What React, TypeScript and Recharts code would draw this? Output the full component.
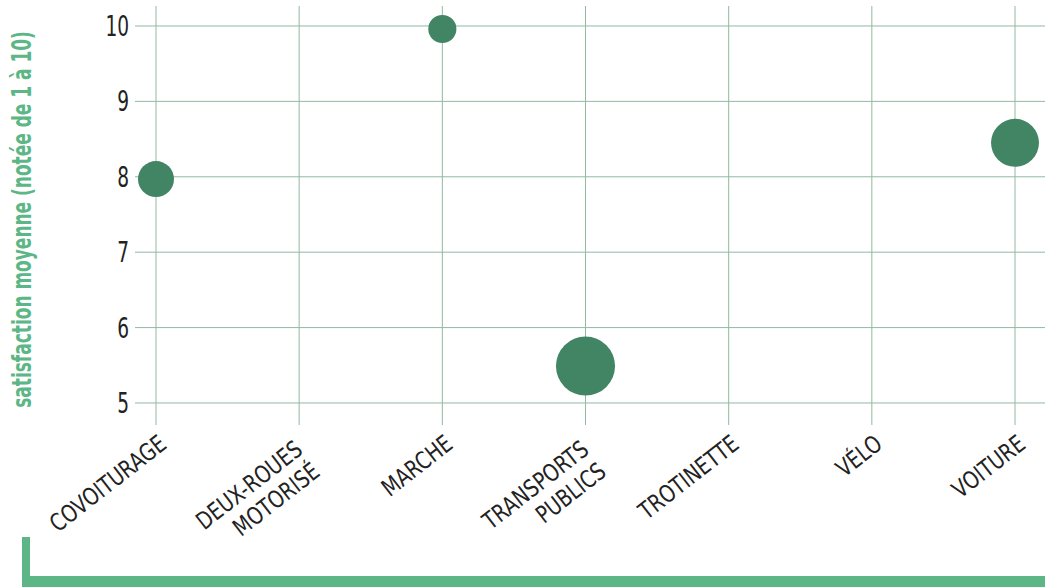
import React from "react";
import { ScatterChart, Scatter, XAxis, YAxis, ZAxis, CartesianGrid } from "recharts";

const categories = [
  "COVOITURAGE",
  "DEUX-ROUES MOTORISÉ",
  "MARCHE",
  "TRANSPORTS PUBLICS",
  "TROTINETTE",
  "VÉLO",
  "VOITURE",
];
const categoryLines = [
  ["COVOITURAGE"],
  ["DEUX-ROUES", "MOTORISÉ"],
  ["MARCHE"],
  ["TRANSPORTS", "PUBLICS"],
  ["TROTINETTE"],
  ["VÉLO"],
  ["VOITURE"],
];
const satisfaction: (number | null)[] = [7.97, null, 9.96, 5.49, null, null, 8.45];
const respondents: (number | null)[] = [36, null, 22, 97, null, null, 64];
const xTicks = [0, 1, 2, 3, 4, 5, 6];
const yTicks = [5, 6, 7, 8, 9, 10];
const xDomain: [number, number] = [-0.1467, 6.2095];
const yDomain: [number, number] = [4.708, 10.265];
const yLabel = "satisfaction moyenne (notée de 1 à 10)";

const data = categories
  .map((c, i) => ({ x: i, name: c, y: satisfaction[i], z: respondents[i] }))
  .filter((d) => d.y !== null);

const FONT = "'DejaVu Sans', 'Noto Sans', sans-serif";
const GRID = "#92b9a2";
const DOT = "#418565";
const ACCENT = "#5cb686";

const XTick = (props: any) => {
  const { x, y, payload } = props;
  const lines = categoryLines[payload.value] || [];
  const shift = lines.length > 1 ? -9 : 0;
  return (
    <g transform={`translate(${x + 12},${y + 14}) rotate(-38) scale(0.8,1)`}>
      <text textAnchor="end" fontFamily={FONT} fontSize={24} fill="#222">
        {lines.map((l, i) => (
          <tspan key={i} x={shift / 0.8} dy={i === 0 ? 0 : 28}>
            {l}
          </tspan>
        ))}
      </text>
    </g>
  );
};

const YTick = (props: any) => {
  const { y, payload } = props;
  return (
    <g transform={`translate(129,${y + 10}) scale(0.64,1)`}>
      <text x={0} y={0} textAnchor="end" fontFamily={FONT} fontSize={29} fill="#222">
        {payload.value}
      </text>
    </g>
  );
};

const YLabel = (props: any) => {
  const vb = props.viewBox || { x: 0, y: 6, width: 135, height: 419 };
  const cx = 31;
  const cy = vb.y + vb.height / 2 + 4;
  return (
    <g transform={`translate(${cx},${cy}) rotate(-90) scale(0.654,1)`}>
      <text
        x={0}
        y={0}
        textAnchor="middle"
        fontFamily={FONT}
        fontWeight="bold"
        fontSize={26}
        fill={ACCENT}
      >
        {yLabel}
      </text>
    </g>
  );
};

const hGen = ({ offset }: any) =>
  yTicks.map(
    (t) => offset.top + ((yDomain[1] - t) / (yDomain[1] - yDomain[0])) * offset.height
  );
const vGen = ({ offset }: any) =>
  xTicks.map(
    (t) => offset.left + ((t - xDomain[0]) / (xDomain[1] - xDomain[0])) * offset.width
  );

export default function App() {
  return (
    <div style={{ position: "fixed", left: 0, top: 0, width: 1045, height: 587, background: "#fff" }}>
      <ScatterChart
        width={1045}
        height={587}
        margin={{ top: 6, right: 0, left: 0, bottom: 102 }}
      >
        <CartesianGrid
          stroke={GRID}
          strokeWidth={1}
          horizontalCoordinatesGenerator={hGen}
          verticalCoordinatesGenerator={vGen}
        />
        <XAxis
          type="number"
          dataKey="x"
          domain={xDomain}
          ticks={xTicks}
          interval={0}
          allowDataOverflow
          axisLine={false}
          tickLine={false}
          height={60}
          tick={<XTick />}
        />
        <YAxis
          type="number"
          dataKey="y"
          domain={yDomain}
          ticks={yTicks}
          interval={0}
          allowDataOverflow
          axisLine={false}
          tickLine={false}
          width={135}
          tick={<YTick />}
          label={<YLabel />}
        />
        <ZAxis type="number" dataKey="z" domain={[0, 100]} range={[0, 2827]} />
        <Scatter data={data} fill={DOT} isAnimationActive={false} />
      </ScatterChart>
      <div style={{ position: "absolute", left: 22, top: 537, width: 8, height: 50, background: ACCENT }} />
      <div style={{ position: "absolute", left: 22, top: 576, width: 1023, height: 11, background: ACCENT }} />
    </div>
  );
}
